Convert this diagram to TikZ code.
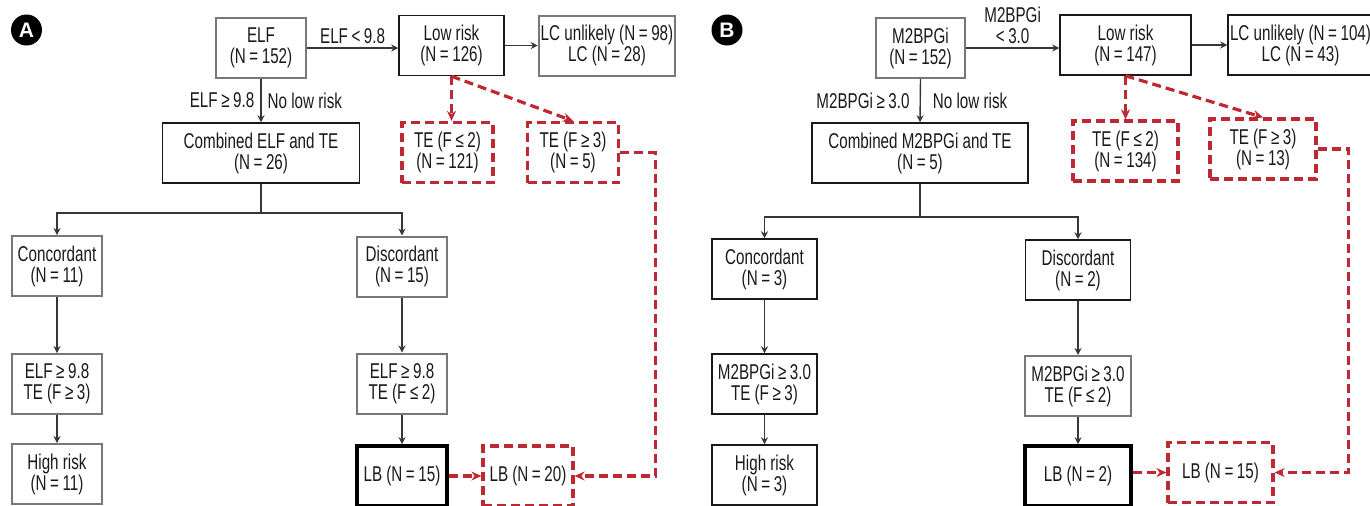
\documentclass[tikz,border=0pt]{standalone}
\usepackage{fontspec}
\setmainfont{Liberation Sans}[FakeStretch=0.71]
\newfontfamily\tagfont{Liberation Sans}
\usetikzlibrary{arrows.meta,calc}
\definecolor{redline}{RGB}{190,40,50}
\definecolor{boxgray}{RGB}{120,120,120}
\definecolor{linegray}{RGB}{55,55,55}
\definecolor{textdark}{RGB}{25,25,25}
\tikzset{
  box/.style={draw=boxgray, line width=1pt, align=center, inner sep=1pt, minimum width=45pt, minimum height=30pt, text=textdark},
  darkbox/.style={box, draw=textdark, line width=0.75pt},
  lbbox/.style={box, draw=black, line width=1.8pt},
  redbox/.style={box, draw=redline, line width=1.6pt, dash pattern=on 4.5pt off 2.5pt},
  flow/.style={-{Stealth[length=3.5pt,width=3.5pt]}, linegray, line width=0.7pt},
  redflow/.style={-{Stealth[length=5pt,width=4.5pt]}, redline, line width=1.6pt, dash pattern=on 4.5pt off 2.5pt},
  cond/.style={text=textdark, inner sep=3pt, align=center},
  tag/.style={circle, fill=black, text=white, minimum size=15.5pt, inner sep=0pt, font=\tagfont\bfseries\fontsize{10.5}{10.5}\selectfont}
}
\begin{document}
\begin{tikzpicture}[x=0.5pt, y=-0.5pt, every node/.style={font=\fontsize{10.7}{10.5}\selectfont}]
	\clip (0,0) rectangle (1370,505);
	% panel A
	\node[tag] (tagA) at (26.5,30) {A};
	\node[box] (elf) at (261,48) {ELF\\(N\,=\,152)};
	\node[darkbox, minimum width=52.5pt] (lowA) at (451.5,45.5) {Low risk\\(N\,=\,126)};
	\node[box, minimum width=65pt] (lcA) at (607,45.5) {LC unlikely (N\,=\,98)\\LC (N\,=\,28)};
	\node[darkbox, minimum width=98.5pt] (combA) at (261,153) {Combined ELF and TE\\(N\,=\,26)};
	\node[redbox, minimum width=45.5pt] (te2A) at (447.5,152.5) {TE (F\,≤\,2)\\(N\,=\,121)};
	\node[redbox, minimum width=45.5pt] (te3A) at (573,152.5) {TE (F\,≥\,3)\\(N\,=\,5)};
	\coordinate (jA) at (261,213);
	\node[box] (concA) at (57,266) {Concordant\\(N\,=\,11)};
	\node[box] (discA) at (402,266.5) {Discordant\\(N\,=\,15)};
	\node[box] (condA) at (57,384) {ELF\,≥\,9.8\\TE (F\,≥\,3)};
	\node[box] (dcondA) at (402,383.5) {ELF\,≥\,9.8\\TE (F\,≤\,2)};
	\node[box] (highA) at (57,474) {High risk\\(N\,=\,11)};
	\node[lbbox] (lbA) at (402,476) {LB (N\,=\,15)};
	\node[redbox] (lbtA) at (528,476) {LB (N\,=\,20)};
	\draw[flow] (elf.east) -- (elf.east -| lowA.west) node[midway, above, cond, inner sep=2pt] {ELF\,<\,9.8};
	\draw[flow] (lowA.east) -- (lcA.west);
	\draw[flow] (elf.south) -- (combA.north) node[midway, left, cond] {ELF\,≥\,9.8} node[midway, right, cond] {No low risk};
	\draw[flow] (combA.south) -- (jA) -| (concA.north);
	\draw[flow] (jA) -| (discA.north);
	\draw[flow] (concA) -- (condA);
	\draw[flow] (condA) -- (highA);
	\draw[flow] (discA) -- (dcondA);
	\draw[flow] (dcondA) -- (lbA);
	\draw[redflow] (lowA.south) -- (lowA.south |- te2A.north);
	\draw[redflow] (lowA.south) -- (te3A.north);
	\draw[redflow] (te3A.east) -- ++(35,0) |- (lbtA.east);
	\draw[redflow] (lbA.east) -- (lbtA.west);
	% panel B
	\node[tag] (tagB) at (727,30) {B};
	\node[box, minimum width=44.5pt] (m2) at (920.5,48) {M2BPGi\\(N\,=\,152)};
	\node[darkbox, minimum width=65.5pt] (lowB) at (1125.5,45) {Low risk\\(N\,=\,147)};
	\node[darkbox, minimum width=67.5pt] (lcB) at (1300.5,45) {LC unlikely (N\,=\,104)\\LC (N\,=\,43)};
	\node[darkbox, minimum width=108pt] (combB) at (920,153) {Combined M2BPGi and TE\\(N\,=\,5)};
	\node[redbox, minimum width=52.5pt] (te2B) at (1125.5,151) {TE (F\,≤\,2)\\(N\,=\,134)};
	\node[redbox, minimum width=53pt] (te3B) at (1263,149) {TE (F\,≥\,3)\\(N\,=\,13)};
	\coordinate (jB) at (920,217);
	\node[darkbox, minimum width=52.5pt] (concB) at (764.5,269) {Concordant\\(N\,=\,3)};
	\node[darkbox, minimum width=52.5pt] (discB) at (1078,270) {Discordant\\(N\,=\,2)};
	\node[darkbox, minimum width=52.5pt] (condB) at (764.5,384) {M2BPGi\,≥\,3.0\\TE (F\,≥\,3)};
	\node[box, minimum width=53pt] (dcondB) at (1078,386) {M2BPGi\,≥\,3.0\\TE (F\,≤\,2)};
	\node[darkbox, minimum width=52.5pt] (highB) at (764.5,475) {High risk\\(N\,=\,3)};
	\node[lbbox, minimum width=53pt] (lbB) at (1078,476) {LB (N\,=\,2)};
	\node[redbox, minimum width=52.5pt] (lbtB) at (1220.5,472.5) {LB (N\,=\,15)};
	\draw[flow] (m2.east) -- (m2.east -| lowB.west) node[midway, above, cond, inner sep=2pt] {M2BPGi\\<\,3.0};
	\draw[flow] (lowB.east) -- (lcB.west);
	\draw[flow] (m2.south) -- (combB.north) node[midway, left, cond, inner sep=5pt] {M2BPGi\,≥\,3.0} node[midway, right, cond, inner sep=6pt] {No low risk};
	\draw[flow] (combB.south) -- (jB) -| (concB.north);
	\draw[flow] (jB) -| (discB.north);
	\draw[flow] (concB) -- (condB);
	\draw[flow] (condB) -- (highB);
	\draw[flow] (discB) -- (dcondB);
	\draw[flow] (dcondB) -- (lbB);
	\draw[redflow] (lowB.south) -- (lowB.south |- te2B.north);
	\draw[redflow] (lowB.south) -- (te3B.north);
	\draw[redflow] (te3B.east) -- ++(31,0) |- (lbtB.east);
	\draw[redflow] (lbB.east |- lbtB.west) -- (lbtB.west);
\end{tikzpicture}
\end{document}
